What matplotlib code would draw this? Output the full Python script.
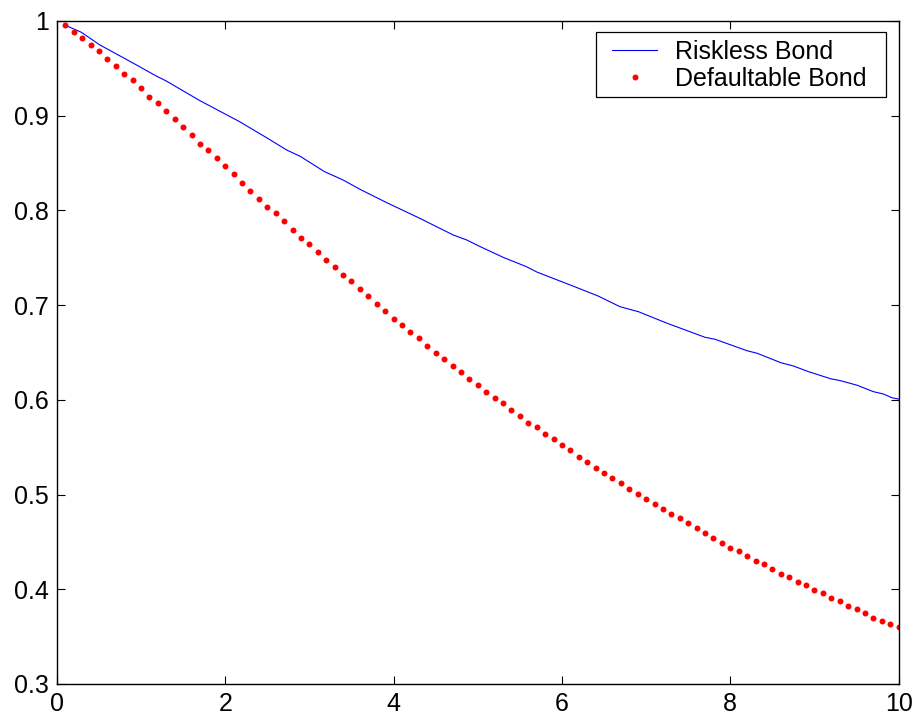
import numpy as np
import matplotlib.pyplot as plt
from matplotlib.patches import Rectangle

plt.rcParams['font.family'] = ['Liberation Sans', 'DejaVu Sans']

# riskless bond price, sampled along the curve
riskless_t = [0.09, 0.29, 0.51, 0.91, 1.18, 1.30, 1.70, 1.82, 2.17, 2.49, 2.73, 2.89,
              3.18, 3.40, 3.60, 3.92, 4.31, 4.51, 4.71, 4.87, 5.03, 5.30, 5.58, 5.70,
              6.18, 6.43, 6.69, 6.91, 7.25, 7.70, 7.82, 8.20, 8.32, 8.60, 8.75, 8.93,
              9.19, 9.31, 9.51, 9.70, 9.82, 9.92, 10.0]
riskless_price = [0.9958, 0.9881, 0.9747, 0.9553, 0.9419, 0.9366, 0.9158, 0.9102, 0.8937,
                  0.8768, 0.8638, 0.8571, 0.8409, 0.8321, 0.8223, 0.8081, 0.7917, 0.7828,
                  0.7740, 0.7687, 0.7617, 0.7505, 0.7405, 0.7350, 0.7184, 0.7096, 0.6983,
                  0.6930, 0.6808, 0.6660, 0.6639, 0.6518, 0.6491, 0.6392, 0.6357, 0.6297,
                  0.6223, 0.6202, 0.6153, 0.6086, 0.6061, 0.6022, 0.6008]

# defaultable bond price at t = 0.1, 0.2, ..., 10
defaultable_t = np.arange(1, 101) / 10
defaultable_price = [
    0.9958, 0.9887, 0.9817, 0.9750, 0.9680, 0.9596, 0.9528, 0.9443, 0.9374, 0.9289,
    0.9200, 0.9134, 0.9046, 0.8962, 0.8877, 0.8792, 0.8704, 0.8638, 0.8550, 0.8466,
    0.8380, 0.8292, 0.8206, 0.8124, 0.8040, 0.7970, 0.7885, 0.7796, 0.7712, 0.7642,
    0.7558, 0.7473, 0.7402, 0.7318, 0.7251, 0.7167, 0.7096, 0.7012, 0.6941, 0.6853,
    0.6787, 0.6719, 0.6649, 0.6565, 0.6497, 0.6431, 0.6360, 0.6294, 0.6223, 0.6153,
    0.6085, 0.6016, 0.5963, 0.5895, 0.5826, 0.5758, 0.5710, 0.5639, 0.5589, 0.5519,
    0.5470, 0.5399, 0.5346, 0.5280, 0.5227, 0.5174, 0.5125, 0.5055, 0.5005, 0.4952,
    0.4900, 0.4850, 0.4797, 0.4749, 0.4696, 0.4646, 0.4593, 0.4541, 0.4491, 0.4438,
    0.4403, 0.4351, 0.4301, 0.4266, 0.4216, 0.4164, 0.4129, 0.4079, 0.4044, 0.3992,
    0.3957, 0.3907, 0.3872, 0.3819, 0.3788, 0.3752, 0.3699, 0.3667, 0.3632, 0.3598]

fig = plt.figure(figsize=(9.17, 7.25), dpi=100)
ax = fig.add_axes([0.062, 0.0566, 0.918, 0.9145])

ax.plot(riskless_t, riskless_price, color='blue', linewidth=0.8, label='Riskless Bond')
ax.plot(defaultable_t, defaultable_price, linestyle='none', marker='o', markersize=4.3,
        markeredgewidth=0, color='red', label='Defaultable Bond')

ax.set_xlim(0, 10)
ax.set_ylim(0.3, 1)
ax.set_xticks([0, 2, 4, 6, 8, 10])
ax.set_yticks([0.3, 0.4, 0.5, 0.6, 0.7, 0.8, 0.9, 1])
ax.set_yticklabels(['0.3', '0.4', '0.5', '0.6', '0.7', '0.8', '0.9', '1'])
ax.tick_params(direction='in', length=6, width=0.8, top=True, right=True,
               labelsize=18, pad=6)
for s in ax.spines.values():
    s.set_linewidth(1.0)

# legend box drawn separately so it can have wider side padding
ax.add_patch(Rectangle((0.641, 0.8854), 0.344, 0.098, transform=ax.transAxes,
                       facecolor='white', edgecolor='black', linewidth=0.9, zorder=4.9))
leg = ax.legend(loc='upper left', bbox_to_anchor=(0.660, 0.972), fontsize=18,
                frameon=False, borderpad=0, handlelength=1.8, handletextpad=0.7,
                labelspacing=0.12, borderaxespad=0)

fig.savefig('out.png', dpi=100)
